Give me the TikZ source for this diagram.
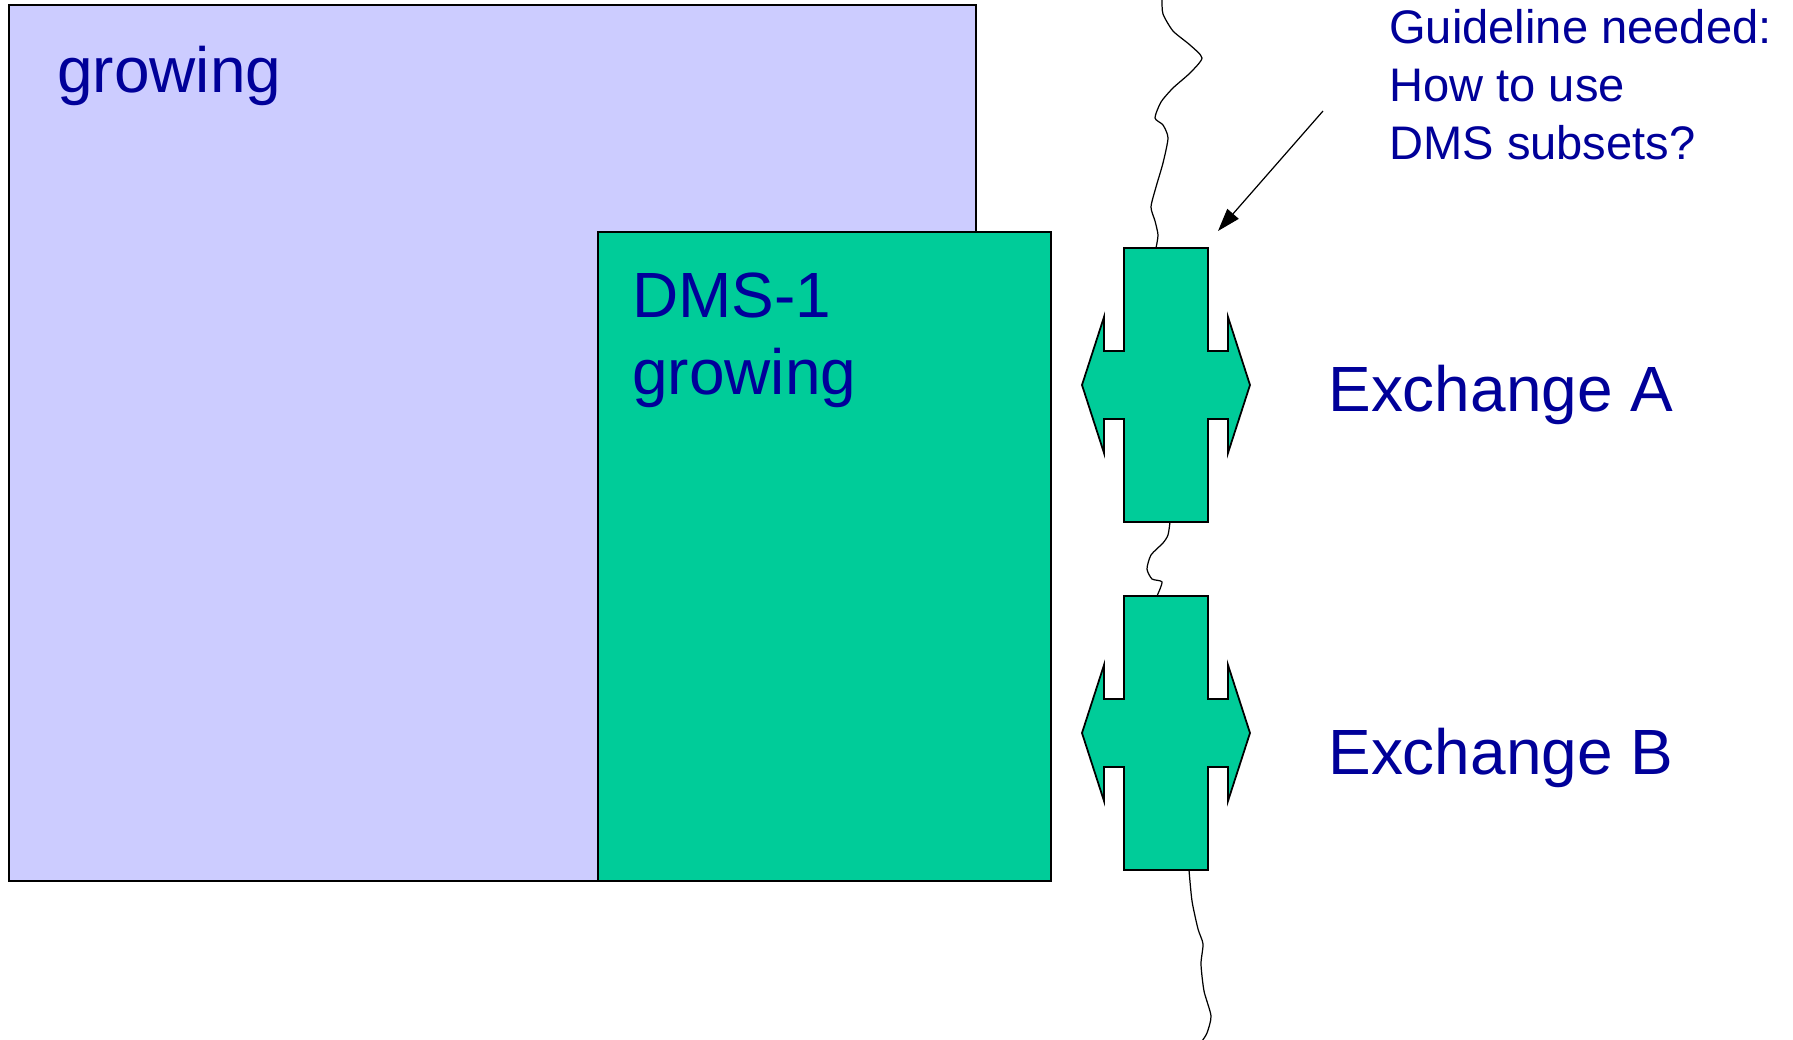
\documentclass[tikz,border=0pt]{standalone}
\usepackage{fontspec}
\setmainfont{Liberation Sans}
\usetikzlibrary{arrows.meta}
\definecolor{lavender}{RGB}{204,204,255}
\definecolor{dmsgreen}{RGB}{0,204,153}
\definecolor{textblue}{RGB}{0,0,153}
\tikzset{box/.style={draw=black,line width=1pt},
         txt/.style={textblue,inner sep=0pt,anchor=base west},
         bigtxt/.style={txt,font=\fontsize{36.4}{44}\selectfont},
         smalltxt/.style={txt,font=\fontsize{26.8}{33}\selectfont},
         wire/.style={black,line width=0.7pt}}

\begin{document}
\begin{tikzpicture}[x=0.02cm,y=-0.02cm]
   \useasboundingbox (0,0) rectangle (1793,1040);
   % the two regions
   \draw[box,fill=lavender] (9,5) rectangle (976,881);
   \draw[box,fill=dmsgreen] (598,232) rectangle (1051,881);
   \node[bigtxt] (grow) at (57,93) {growing};
   \node[bigtxt] (dms) at (632,318) {DMS-1};
   \node[bigtxt] (dmsgrow) at (632,395) {growing};
   % exchange A
   \begin{scope}[shift={(1166,385)}]
    \draw[box,fill=dmsgreen] (-42,-137) -- (42,-137) -- (42,-34) -- (62,-34) -- (62,-68) -- (84,0)
      -- (62,68) -- (62,34) -- (42,34) -- (42,137) -- (-42,137) -- (-42,34) -- (-62,34)
      -- (-62,68) -- (-84,0) -- (-62,-68) -- (-62,-34) -- (-42,-34) -- cycle;
    \coordinate (xa-top) at (-10,-137);
    \coordinate (xa-bot) at (4,137);
    \coordinate (xa-corner) at (52,-154);
   \end{scope}
   % exchange B
   \begin{scope}[shift={(1166,733)}]
    \draw[box,fill=dmsgreen] (-42,-137) -- (42,-137) -- (42,-34) -- (62,-34) -- (62,-68) -- (84,0)
      -- (62,68) -- (62,34) -- (42,34) -- (42,137) -- (-42,137) -- (-42,34) -- (-62,34)
      -- (-62,68) -- (-84,0) -- (-62,-68) -- (-62,-34) -- (-42,-34) -- cycle;
    \coordinate (xb-top) at (-9,-137);
    \coordinate (xb-bot) at (23,137);
   \end{scope}
   \node[bigtxt] (exa) at (1328,412) {Exchange A};
   \node[bigtxt] (exb) at (1328,774) {Exchange B};
   % the wavy border
   \draw[wire] plot[smooth,tension=0.4] coordinates {(1162,0) (1163,14) (1173,31) (1190,45) (1202,58)
      (1190,73) (1173,88) (1161,102) (1155,118) (1163,125) (1168,138) (1163,163) (1156,187)
      (1151,207) (1155,221) (1158,235) (xa-top)};
   \draw[wire] plot[smooth,tension=0.4] coordinates {(xa-bot) (1168,535) (1163,543) (1151,555)
      (1147,569) (1152,579) (1162,582) (xb-top)};
   \draw[wire] plot[smooth,tension=0.4] coordinates {(xb-bot) (1192,901) (1198,929) (1203,944)
      (1201,964) (1204,991) (1211,1016) (1207,1033) (1202,1041)};
   % question
   \node[smalltxt] (q1) at (1389,44) {Guideline needed:};
   \node[smalltxt] (q2) at (1389,102) {How to use};
   \node[smalltxt] (q3) at (1389,160) {DMS subsets?};
   \coordinate (qfrom) at (1323,111);
   \draw[wire,-{Triangle[length=13pt,width=8.5pt]}] (qfrom) -- (xa-corner);
\end{tikzpicture}
\end{document}
